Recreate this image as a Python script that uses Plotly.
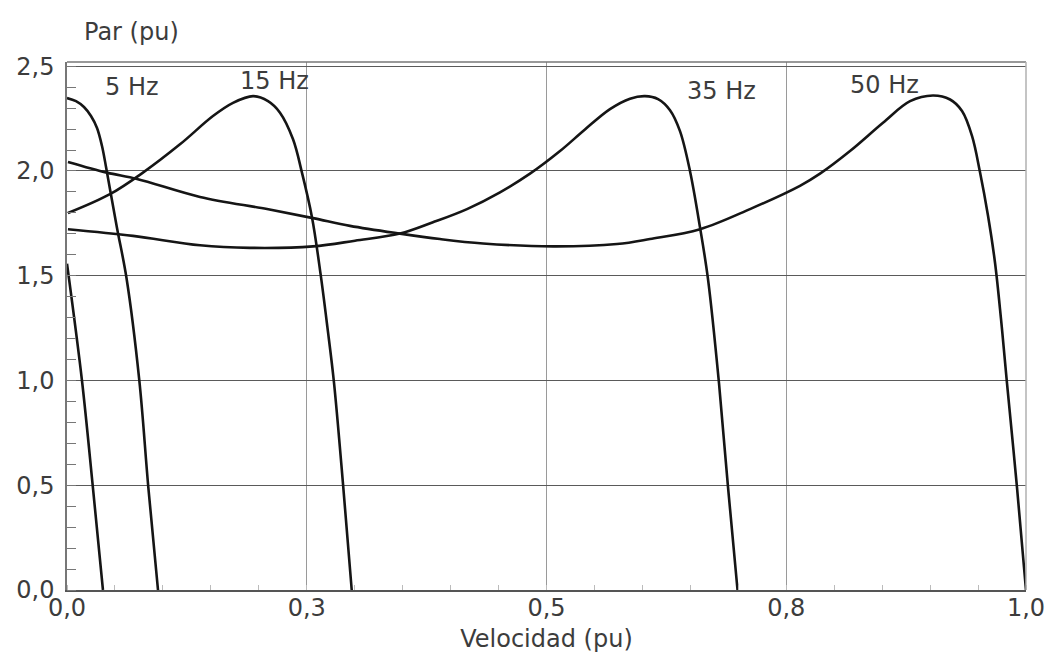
import plotly.graph_objects as go

# ---- data (speed pu, torque pu) ----
low_x = [0.0, 0.0156, 0.027, 0.0375]
low_y = [1.557, 1.0, 0.49, 0.0]

f5_x = [0.0, 0.0094, 0.0177, 0.025, 0.0313, 0.0365, 0.0407, 0.0448, 0.0521,
        0.062, 0.0754, 0.0848, 0.0949]
f5_y = [2.348, 2.333, 2.305, 2.262, 2.205, 2.119, 2.019, 1.914, 1.729,
        1.49, 1.0, 0.49, 0.0]

f15_x = [0.001, 0.0448, 0.0792, 0.1178, 0.1522, 0.1731, 0.194, 0.2096, 0.2221,
         0.2357, 0.245, 0.2555, 0.2645, 0.2716, 0.2784, 0.2881, 0.2969]
f15_y = [1.799, 1.889, 1.992, 2.127, 2.262, 2.325, 2.357, 2.333, 2.278,
         2.151, 1.992, 1.778, 1.505, 1.252, 0.99, 0.49, 0.0]

f35_x = [0.001, 0.0688, 0.1387, 0.1908, 0.2565, 0.3003, 0.3472, 0.3816, 0.4171,
         0.4515, 0.4828, 0.5141, 0.5401, 0.5662, 0.5871, 0.6027, 0.6163, 0.6288,
         0.6392, 0.6496, 0.6601, 0.6684, 0.6799, 0.6893, 0.6992]
f35_y = [1.722, 1.690, 1.645, 1.633, 1.640, 1.667, 1.701, 1.755, 1.818,
         1.898, 1.987, 2.095, 2.198, 2.295, 2.345, 2.357, 2.343, 2.290,
         2.190, 2.0, 1.730, 1.484, 0.986, 0.490, 0.0]

f50_x = [0.001, 0.0417, 0.073, 0.1387, 0.2086, 0.2565, 0.2951, 0.3472, 0.3889,
         0.4338, 0.5068, 0.5735, 0.6079, 0.6601, 0.7122, 0.7643, 0.7852, 0.8165,
         0.8509, 0.8791, 0.903, 0.9208, 0.9333, 0.9437, 0.952, 0.9604, 0.9677,
         0.9739, 0.9802, 0.9906, 1.0]
f50_y = [2.043, 1.992, 1.962, 1.876, 1.818, 1.775, 1.738, 1.701, 1.675,
         1.654, 1.640, 1.651, 1.675, 1.722, 1.818, 1.929, 1.987, 2.095,
         2.230, 2.333, 2.360, 2.341, 2.286, 2.167, 1.995, 1.786, 1.562,
         1.295, 0.986, 0.490, 0.0]

series = [("", low_x, low_y), ("5 Hz", f5_x, f5_y), ("15 Hz", f15_x, f15_y),
          ("35 Hz", f35_x, f35_y), ("50 Hz", f50_x, f50_y)]

curve_labels = ["5 Hz", "15 Hz", "35 Hz", "50 Hz"]
label_x = [0.068, 0.216, 0.682, 0.852]
label_y = [2.40, 2.43, 2.38, 2.41]

x_tickvals = [0.0, 0.25, 0.5, 0.75, 1.0]
x_ticktext = ["0,0", "0,3", "0,5", "0,8", "1,0"]
y_tickvals = [0.0, 0.5, 1.0, 1.5, 2.0, 2.5]
y_ticktext = ["0,0", "0,5", "1,0", "1,5", "2,0", "2,5"]

FONT = "DejaVu Sans"
TXT = "#3c3c3c"
FS = 24

fig = go.Figure()
for name, xs, ys in series:
    fig.add_trace(go.Scatter(
        x=xs, y=ys, mode="lines", name=name or "curva",
        line=dict(color="#151515", width=2.6, shape="spline", smoothing=1.0),
        showlegend=False, hoverinfo="skip"))

for t, lx, ly in zip(curve_labels, label_x, label_y):
    fig.add_annotation(x=lx, y=ly, text=t, showarrow=False,
                       xanchor="center", yanchor="middle",
                       font=dict(family=FONT, size=FS, color=TXT))

fig.add_annotation(xref="paper", yref="paper", x=0.0, y=1.0, xshift=64,
                   yshift=30, xanchor="center", yanchor="middle",
                   text="Par (pu)", showarrow=False,
                   font=dict(family=FONT, size=FS, color=TXT))

fig.update_layout(
    width=1052, height=660,
    margin=dict(l=67, r=26, t=62, b=70),
    paper_bgcolor="white", plot_bgcolor="white",
    font=dict(family=FONT, size=FS, color=TXT),
    xaxis=dict(
        range=[0, 1.0], tickmode="array", tickvals=x_tickvals, ticktext=x_ticktext,
        showgrid=True, gridcolor="#9a9a9a", gridwidth=1,
        zeroline=False, showline=True, linecolor="#555", linewidth=1.5,
        ticks="", ticklabelstandoff=-5, automargin=False,
        tickfont=dict(family=FONT, size=FS, color=TXT),
        minor=dict(tickmode="linear", tick0=0, dtick=0.05, ticks="inside",
                   ticklen=5, tickcolor="#bbbbbb", showgrid=False),
        title=dict(text="Velocidad (pu)", font=dict(family=FONT, size=FS, color=TXT),
                   standoff=10),
    ),
    yaxis=dict(
        range=[0, 2.52], tickmode="array", tickvals=y_tickvals, ticktext=y_ticktext,
        showgrid=True, gridcolor="#5a5a5a", gridwidth=1.3,
        zeroline=False, showline=True, linecolor="#777", linewidth=1.5,
        ticks="", ticklabelstandoff=6, automargin=False,
        tickfont=dict(family=FONT, size=FS, color=TXT),
        minor=dict(tickmode="linear", tick0=0, dtick=0.1, ticks="inside",
                   ticklen=9, tickcolor="#777777", showgrid=False),
    ),
    shapes=[
        dict(type="line", xref="paper", yref="paper", x0=0, x1=1, y0=1, y1=1,
             line=dict(color="#777", width=1.5)),
        dict(type="line", xref="paper", yref="paper", x0=1, x1=1, y0=0, y1=1,
             line=dict(color="#b0b0b0", width=1.5)),
    ],
)

fig.write_html("out.html")
